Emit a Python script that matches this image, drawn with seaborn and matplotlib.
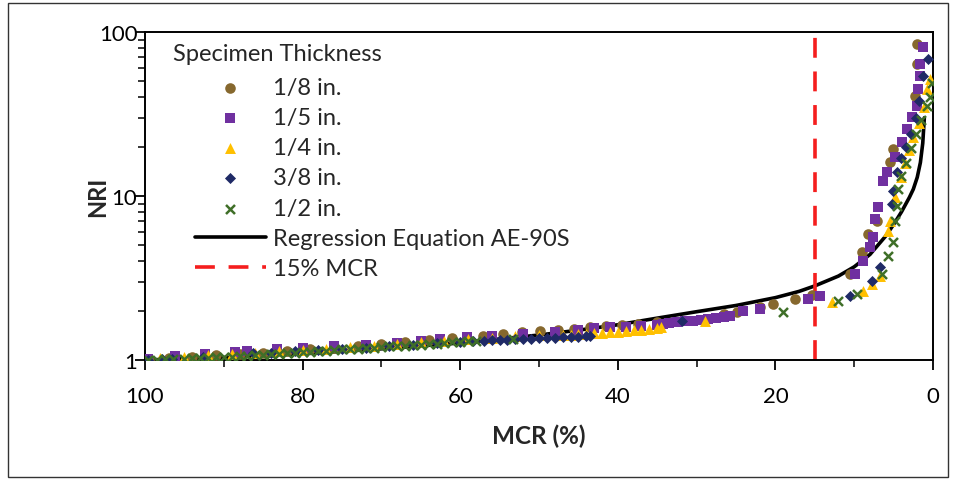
import matplotlib
matplotlib.use("Agg")
import matplotlib.pyplot as plt
from matplotlib.ticker import MultipleLocator, FixedLocator, FixedFormatter, LogLocator, NullFormatter
from matplotlib.patches import Rectangle
import numpy as np
import seaborn as sns

# regression curve (MCR %, NRI)
curve_mcr = [100, 90, 80, 70, 60, 50, 45, 40, 35, 30, 25, 20, 17, 15, 12, 10, 8, 6, 5, 4, 3, 2.5, 2, 1.6, 1.3, 1.1]
curve_nri = [1.0, 1.035, 1.09, 1.17, 1.27, 1.42, 1.52, 1.64, 1.80, 1.97, 2.15, 2.40, 2.62, 2.83, 3.25, 3.7, 4.4, 5.7, 6.7, 8.0, 9.8, 11.0, 13.0, 16.0, 21.0, 30.0]

# 1/8 in.
mcr_18 = [99.5, 97, 94, 91, 88, 85, 82, 79, 76, 73, 70, 67, 64, 61, 57.1, 54.6, 52.2, 49.9, 47.6, 45.5, 43.5,
          41.5, 39.5, 37.5, 35, 26.5, 24.9, 22.0, 20.3, 17.5, 15.4, 10.5, 9.0, 8.2, 7.1, 5.5, 5.1, 2.3, 2.0, 2.0]
nri_18 = [1.0, 1.03, 1.05, 1.07, 1.09, 1.11, 1.13, 1.16, 1.19, 1.22, 1.25, 1.28, 1.32, 1.36, 1.40, 1.44, 1.48, 1.50, 1.52, 1.55, 1.58,
          1.61, 1.63, 1.66, 1.70, 1.90, 1.96, 2.10, 2.19, 2.35, 2.50, 3.34, 4.55, 5.86, 7.0, 16.1, 19.3, 40.6, 63.8, 84]

# 1/5 in.
mcr_15 = [99.6, 96.2, 92.4, 88.6, 87, 83.2, 80, 76, 72, 68, 65, 62.6, 59.1, 56, 52, 48, 45, 43, 41, 39, 37, 35,
          34.3, 33.5, 32.5, 31.5, 30.5, 29.5, 28.5, 27.5, 26.5, 25.8, 24.1, 22.0, 15.9, 14.3, 9.9, 8.9, 8.0, 7.6,
          7.4, 7.0, 6.3, 5.8, 4.8, 3.9, 3.3, 2.7, 2.0, 1.9, 1.6, 1.6, 1.3]
nri_15 = [1.01, 1.06, 1.09, 1.12, 1.13, 1.16, 1.18, 1.21, 1.24, 1.27, 1.30, 1.34, 1.38, 1.41, 1.45, 1.49, 1.53, 1.56, 1.58, 1.60, 1.62, 1.64,
          1.66, 1.68, 1.70, 1.72, 1.74, 1.76, 1.78, 1.80, 1.83, 1.85, 1.99, 2.05, 2.35, 2.45, 3.34, 4.0, 4.88, 5.6,
          7.25, 8.6, 12.3, 14.0, 17.3, 21.3, 25.6, 30.3, 35.5, 44.9, 53.9, 64, 81]

# 1/4 in.
mcr_14 = [98.1, 95, 92, 89, 86, 83, 80, 77, 74, 71, 68, 65, 62, 59, 56, 53, 50, 47, 46, 45, 44, 43, 42, 41, 40,
          39, 38, 37, 36, 35, 34.5, 28.9, 12.8, 8.9, 7.7, 6.7, 5.7, 5.5, 4.8, 4.0, 3.5, 3.0, 2.5, 1.8, 1.2, 0.8, 0.4]
nri_14 = [1.03, 1.05, 1.07, 1.09, 1.11, 1.13, 1.15, 1.17, 1.20, 1.22, 1.25, 1.28, 1.31, 1.34, 1.37, 1.40, 1.43, 1.42, 1.43, 1.44, 1.45, 1.46, 1.47, 1.48, 1.49,
          1.50, 1.52, 1.53, 1.55, 1.57, 1.59, 1.73, 2.26, 2.63, 2.9, 3.25, 6.1, 7.05, 9.9, 13, 16, 19, 23, 28, 35, 45, 52]

# 3/8 in.
mcr_38 = [99.6, 97.8, 96.6, 92.6, 86.3, 84, 81, 78, 75, 72, 69, 66, 63, 60, 58.4, 57, 56, 55, 54, 53, 52, 51, 50,
          49, 48, 47, 46, 45, 44, 43.5, 31.9, 10.5, 7.7, 6.7, 5.2, 5.1, 4.6, 4.0, 3.4, 2.8, 2.2, 1.8, 1.3, 0.6]
nri_38 = [1.0, 1.01, 1.02, 1.04, 1.10, 1.11, 1.13, 1.15, 1.17, 1.19, 1.22, 1.24, 1.27, 1.29, 1.30, 1.31, 1.32, 1.32, 1.33, 1.34, 1.35, 1.35, 1.36,
          1.37, 1.37, 1.38, 1.39, 1.39, 1.40, 1.40, 1.73, 2.45, 3.03, 3.69, 8.9, 10.7, 14, 17, 20, 24, 30, 38, 53.8, 68]

# 1/2 in.
mcr_12 = [99.6, 98.5, 97.5, 96.5, 95, 94, 93, 92, 91, 90, 89, 88, 87, 86, 85, 84, 83, 82, 81, 80, 79, 78, 77,
          76, 75, 74, 73, 72, 71, 70, 69, 68, 67, 66, 65, 64, 63, 62, 61, 60, 59, 58, 53.3,
          19.0, 12.1, 9.6, 6.5, 5.7, 5.1, 4.8, 4.6, 4.4, 4.0, 3.4, 2.8, 2.2, 1.5, 0.8, 0.4, 0.1]
nri_12 = [1.0, 1.005, 1.01, 1.015, 1.02, 1.025, 1.03, 1.035, 1.04, 1.045, 1.05, 1.055, 1.06, 1.07, 1.08, 1.085, 1.09, 1.10, 1.11, 1.115, 1.12, 1.13, 1.14,
          1.145, 1.16, 1.165, 1.17, 1.18, 1.19, 1.20, 1.21, 1.215, 1.22, 1.23, 1.24, 1.25, 1.26, 1.27, 1.28, 1.285, 1.30, 1.31, 1.34,
          1.96, 2.29, 2.53, 3.34, 4.31, 5.25, 7.05, 8.7, 11, 13.2, 16, 19.5, 24, 29, 35.5, 40, 49]

labels = ["1/8 in.", "1/5 in.", "1/4 in.", "3/8 in.", "1/2 in."]
colors = ["#86682E", "#7030A0", "#FFC000", "#1F2A66", "#3F6F28"]
markers = ["o", "s", "^", "D", "x"]
sizes = [58, 50, 62, 32, 42]

sns.set_style("white")
plt.rcParams['font.family'] = ['Lato', 'DejaVu Sans']

fig = plt.figure(figsize=(9.56, 4.85), dpi=100)
ax = fig.add_axes([145/956, 1-361/485, 788/956, 328/485])

# regression line + 15% limit first, markers on top
sns.lineplot(x=curve_mcr, y=curve_nri, sort=False, color="black", linewidth=2.6,
             label="Regression Equation AE-90S", ax=ax, zorder=2)
ax.axvline(15, color="#F51E1E", linewidth=2.6, linestyle=(0, (5.5, 3.8)), label="15% MCR", zorder=2)

series = [(mcr_18, nri_18), (mcr_15, nri_15), (mcr_14, nri_14), (mcr_38, nri_38), (mcr_12, nri_12)]
for (xs, ys), lab, c, m, s in zip(series, labels, colors, markers, sizes):
    if m == "x":
        sns.scatterplot(x=xs, y=ys, marker=m, color=c, s=s, linewidth=1.8, label=lab, ax=ax, zorder=4)
    else:
        sns.scatterplot(x=xs, y=ys, marker=m, color=c, s=s, edgecolor=c, linewidth=0, label=lab, ax=ax, zorder=4)

ax.set_yscale("log")
ax.set_xlim(100, 0)
ax.set_ylim(1, 100)

ax.xaxis.set_major_locator(MultipleLocator(20))
ax.xaxis.set_minor_locator(MultipleLocator(10))
ax.yaxis.set_major_locator(FixedLocator([1, 10, 100]))
ax.yaxis.set_major_formatter(FixedFormatter(["1", "10", "100"]))
ax.yaxis.set_minor_locator(LogLocator(base=10, subs=np.arange(2, 10)))
ax.yaxis.set_minor_formatter(NullFormatter())

ax.tick_params(axis="both", which="major", direction="out", length=7, width=1.3, labelsize=16, colors="black")
ax.tick_params(axis="both", which="minor", direction="out", length=5, width=1.1, colors="black")
ax.tick_params(axis="x", which="major", pad=12)
ax.tick_params(axis="y", which="major", pad=-1.5)
ax.tick_params(bottom=True, left=True, which="both")

for sp in ax.spines.values():
    sp.set_color("black")
    sp.set_linewidth(1.4)

ax.set_xlabel("MCR (%)", fontsize=17.5, fontweight="bold", labelpad=12)
ax.set_ylabel("NRI", fontsize=17, fontweight="bold")
ax.yaxis.set_label_coords(-0.046, 0.5)

handles, labs = ax.get_legend_handles_labels()
order = [labs.index(l) for l in labels + ["Regression Equation AE-90S", "15% MCR"]]
leg = ax.legend([handles[i] for i in order], [labs[i] for i in order],
                loc="upper left", frameon=False, fontsize=17,
                handlelength=3.0, labelspacing=0.39, handletextpad=0.3,
                borderaxespad=0, bbox_to_anchor=(0.0515, 0.892))
ax.text(0.0355, 0.934, "Specimen Thickness", transform=ax.transAxes, fontsize=17,
        ha="left", va="center")

# frame around the whole picture
fig.patches.append(Rectangle((8/956, 1-478/485), 940/956, 474/485, transform=fig.transFigure,
                             fill=False, edgecolor="#333333", linewidth=1.0))

fig.savefig("out.png", dpi=100)
